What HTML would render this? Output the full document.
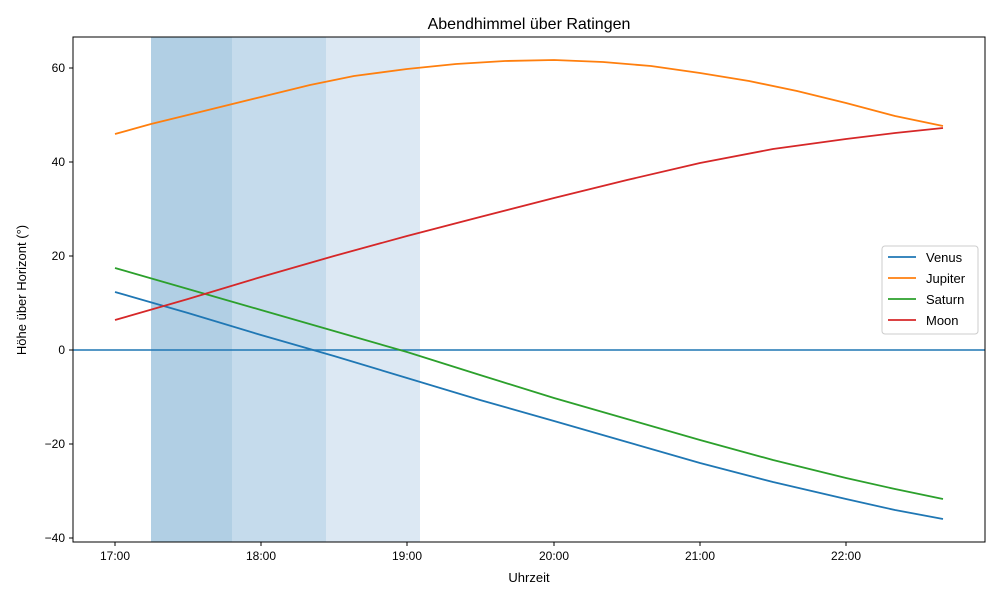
<!DOCTYPE html>
<html><head><meta charset="utf-8"><style>
body{margin:0;background:#fff}
svg text{font-family:"Liberation Sans","DejaVu Sans",sans-serif;fill:#000}
</style></head><body>
<svg width="1000" height="600" viewBox="0 0 1000 600" xmlns="http://www.w3.org/2000/svg">
<rect width="1000" height="600" fill="#fff"/>
<rect x="151" y="37" width="81" height="505" fill="#b1cfe4"/>
<rect x="232" y="37" width="94" height="505" fill="#c5dbec"/>
<rect x="326" y="37" width="94" height="505" fill="#dce8f3"/>
<line x1="73" y1="350" x2="985" y2="350" stroke="#1f77b4" stroke-width="1.5"/>
<g fill="none" stroke-width="1.8" stroke-linejoin="round">
<polyline stroke="#1f77b4" points="115,292 188,313 261,335 334,356 407,378 480,400 554,421 627,442 700,463 773,482 846,499 895,510 943,519"/>
<polyline stroke="#ff7f0e" points="115,134 151,124 200,112 261,97 310,85 354,76 407,69 456,64 505,61 554,60 603,62 651,66 700,73 749,81 797,91 846,103 895,116 943,126"/>
<polyline stroke="#2ca02c" points="115,268 188,289 261,310 334,331 407,352 480,375 554,398 627,419 700,440 773,460 846,478 895,489 943,499"/>
<polyline stroke="#d62728" points="115,320 188,299 261,277 334,256 407,236 480,217 554,198 627,180 700,163 773,149 846,139 895,133 943,128"/>
</g>
<rect x="73" y="37" width="912" height="505" fill="none" stroke="#000" stroke-width="1"/>
<g stroke="#000" stroke-width="1">
<line x1="115" y1="542" x2="115" y2="546"/><line x1="261" y1="542" x2="261" y2="546"/><line x1="407" y1="542" x2="407" y2="546"/><line x1="554" y1="542" x2="554" y2="546"/><line x1="700" y1="542" x2="700" y2="546"/><line x1="846" y1="542" x2="846" y2="546"/>
<line x1="69" y1="68" x2="73" y2="68"/><line x1="69" y1="162" x2="73" y2="162"/><line x1="69" y1="256" x2="73" y2="256"/><line x1="69" y1="350" x2="73" y2="350"/><line x1="69" y1="444" x2="73" y2="444"/><line x1="69" y1="538" x2="73" y2="538"/>
</g>
<g font-size="12" text-anchor="middle">
<text x="115" y="560">17:00</text><text x="261" y="560">18:00</text><text x="407" y="560">19:00</text><text x="554" y="560">20:00</text><text x="700" y="560">21:00</text><text x="846" y="560">22:00</text>
<text x="529" y="582" font-size="13">Uhrzeit</text>
</g>
<g font-size="12" text-anchor="end">
<text x="65" y="72">60</text><text x="65" y="166">40</text><text x="65" y="260">20</text><text x="65" y="354">0</text><text x="65" y="448">−20</text><text x="65" y="542">−40</text>
</g>
<text transform="translate(26,290) rotate(-90)" font-size="13" text-anchor="middle">Höhe über Horizont (°)</text>
<text x="529" y="29" font-size="16" text-anchor="middle">Abendhimmel über Ratingen</text>
<rect x="882" y="246" width="96" height="88" rx="3" fill="#fff" fill-opacity="0.8" stroke="#ccc"/>
<g stroke-width="1.8">
<line x1="888" y1="257" x2="916" y2="257" stroke="#1f77b4"/>
<line x1="888" y1="278" x2="916" y2="278" stroke="#ff7f0e"/>
<line x1="888" y1="299" x2="916" y2="299" stroke="#2ca02c"/>
<line x1="888" y1="320" x2="916" y2="320" stroke="#d62728"/>
</g>
<g font-size="13">
<text x="926" y="262">Venus</text><text x="926" y="283">Jupiter</text><text x="926" y="304">Saturn</text><text x="926" y="325">Moon</text>
</g>
</svg>
</body></html>
